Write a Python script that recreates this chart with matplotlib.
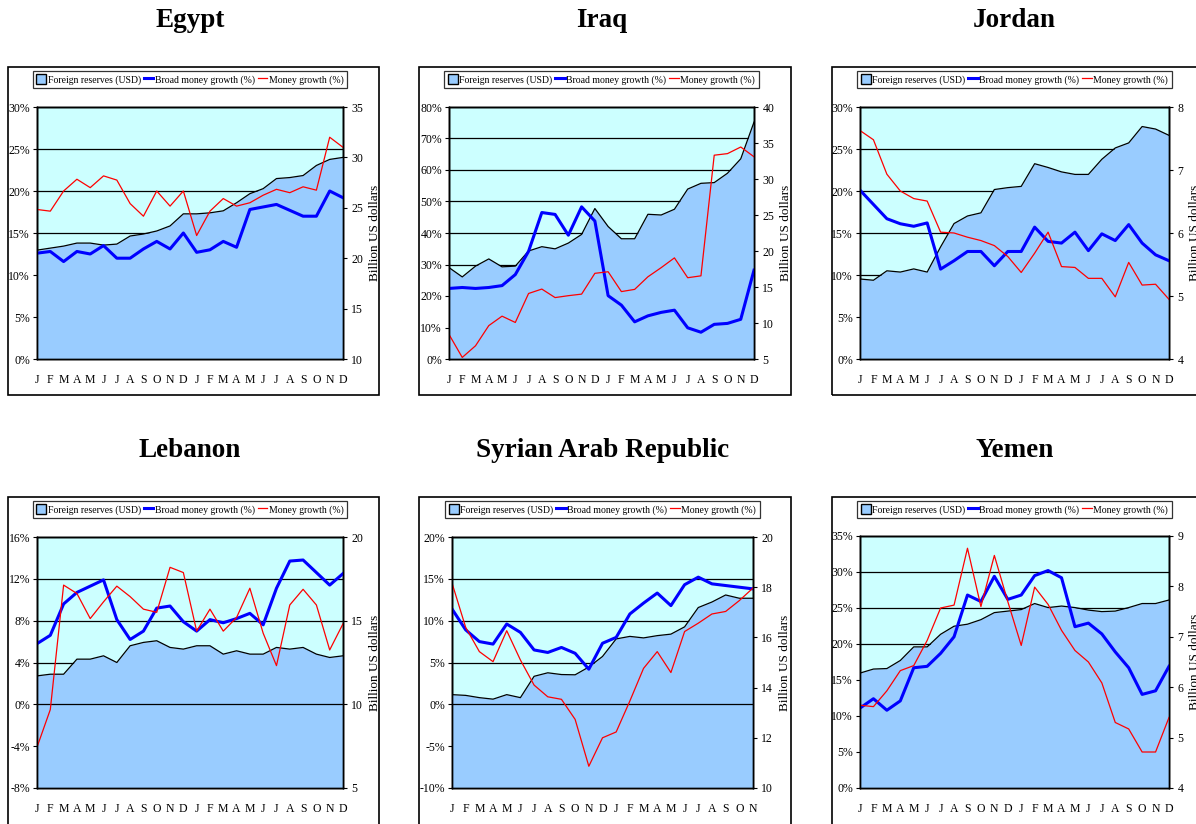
import numpy as np
import matplotlib.pyplot as plt
from matplotlib.patches import Rectangle, Patch
from matplotlib.lines import Line2D

plt.rcParams['font.family'] = ['Liberation Serif', 'DejaVu Serif']

# Month labels (two years)
meses = ['J', 'F', 'M', 'A', 'M', 'J', 'J', 'A', 'S', 'O', 'N', 'D'] * 2

# Egypt
egito_reservas = [20.8, 21.0, 21.2, 21.5, 21.5, 21.3, 21.4, 22.2, 22.4, 22.7, 23.2, 24.4,
                  24.4, 24.5, 24.7, 25.5, 26.4, 26.9, 27.9, 28.0, 28.2, 29.2, 29.8, 30.0]
egito_broad = [12.6, 12.8, 11.6, 12.8, 12.5, 13.5, 12.0, 12.0, 13.1, 14.0, 13.1, 15.0,
               12.7, 13.0, 14.0, 13.3, 17.8, 18.1, 18.4, 17.7, 17.0, 17.0, 20.0, 19.2]
egito_money = [17.8, 17.6, 20.0, 21.4, 20.4, 21.8, 21.3, 18.5, 17.0, 20.0, 18.2, 20.0,
               14.7, 17.6, 19.1, 18.2, 18.6, 19.5, 20.2, 19.8, 20.5, 20.1, 26.4, 25.2]

# Iraq
iraque_reservas = [17.7, 16.4, 17.9, 18.9, 17.8, 17.9, 20.0, 20.6, 20.3, 21.1, 22.3, 25.9,
                   23.4, 21.7, 21.7, 25.1, 25.0, 25.8, 28.6, 29.4, 29.5, 30.8, 32.8, 37.9]
iraque_broad = [22.4, 22.7, 22.4, 22.7, 23.3, 26.8, 34.2, 46.5, 45.9, 39.3, 48.3, 43.8,
                20.1, 17.1, 11.8, 13.7, 14.8, 15.5, 9.9, 8.5, 11.0, 11.3, 12.6, 28.2]
iraque_money = [7.8, 0.5, 4.2, 10.6, 13.6, 11.6, 20.8, 22.2, 19.5, 20.1, 20.6, 27.2,
                27.7, 21.4, 22.1, 26.1, 29.0, 32.1, 25.8, 26.4, 64.7, 65.2, 67.3, 64.2]

# Jordan
jordania_reservas = [5.27, 5.25, 5.40, 5.38, 5.43, 5.38, 5.78, 6.15, 6.27, 6.32, 6.69, 6.72,
                     6.74, 7.10, 7.04, 6.97, 6.93, 6.93, 7.17, 7.35, 7.43, 7.69, 7.65, 7.55]
jordania_broad = [20.1, 18.4, 16.7, 16.1, 15.8, 16.2, 10.7, 11.7, 12.8, 12.8, 11.1, 12.8,
                  12.8, 15.7, 14.0, 13.8, 15.1, 12.9, 14.9, 14.1, 16.0, 13.8, 12.4, 11.7]
jordania_money = [27.2, 26.1, 22.0, 20.0, 19.1, 18.8, 15.1, 15.0, 14.5, 14.1, 13.5, 12.2,
                  10.3, 12.6, 15.1, 11.0, 10.9, 9.6, 9.6, 7.4, 11.5, 8.8, 8.9, 7.1]

# Lebanon
libano_reservas = [11.7, 11.8, 11.8, 12.7, 12.7, 12.9, 12.5, 13.5, 13.7, 13.8, 13.4, 13.3,
                   13.5, 13.5, 13.0, 13.2, 13.0, 13.0, 13.4, 13.3, 13.4, 13.0, 12.8, 12.9]
libano_broad = [5.8, 6.6, 9.6, 10.7, 11.3, 11.9, 8.1, 6.2, 7.0, 9.2, 9.4, 7.9,
                7.0, 8.1, 7.8, 8.2, 8.7, 7.6, 11.1, 13.7, 13.8, 12.6, 11.4, 12.5]
libano_money = [-4.1, -0.5, 11.4, 10.6, 8.2, 9.8, 11.3, 10.3, 9.1, 8.8, 13.1, 12.6,
                7.0, 9.1, 7.0, 8.3, 11.1, 6.8, 3.7, 9.5, 11.0, 9.5, 5.2, 7.7]

# Syrian Arab Republic (23 months)
siria_reservas = [13.72, 13.69, 13.60, 13.54, 13.72, 13.60, 14.45, 14.59, 14.52, 14.51, 14.82, 15.24,
                  15.94, 16.04, 15.98, 16.07, 16.13, 16.42, 17.19, 17.41, 17.69, 17.56, 17.56]
siria_broad = [11.4, 8.9, 7.5, 7.2, 9.6, 8.6, 6.5, 6.2, 6.8, 6.1, 4.2, 7.3,
               8.0, 10.8, 12.1, 13.3, 11.8, 14.3, 15.2, 14.4, 14.2, 14.0, 13.8]
siria_money = [14.5, 9.2, 6.3, 5.1, 8.8, 5.3, 2.3, 0.9, 0.6, -1.8, -7.4, -4.0,
               -3.3, 0.4, 4.3, 6.3, 3.8, 8.7, 9.7, 10.8, 11.1, 12.4, 13.9]

# Yemen
iemen_reservas = [6.28, 6.36, 6.37, 6.53, 6.80, 6.80, 7.05, 7.21, 7.25, 7.34, 7.48, 7.51,
                  7.54, 7.66, 7.58, 7.61, 7.58, 7.53, 7.50, 7.51, 7.58, 7.66, 7.66, 7.73]
iemen_broad = [11.1, 12.4, 10.8, 12.1, 16.7, 16.9, 18.7, 21.0, 26.8, 25.9, 29.4, 26.2,
               26.8, 29.5, 30.2, 29.2, 22.4, 22.9, 21.4, 18.9, 16.7, 13.0, 13.5, 16.9]
iemen_money = [11.5, 11.3, 13.5, 16.3, 17.0, 20.5, 25.0, 25.4, 33.3, 25.2, 32.3, 25.9,
               19.8, 27.9, 25.5, 21.9, 19.1, 17.5, 14.6, 9.1, 8.2, 5.0, 5.0, 9.8]

W, H = 1196, 824
fig = plt.figure(figsize=(W / 100, H / 100), dpi=100)

AZUL_CLARO = '#99CCFF'
CIANO = '#CCFFFF'


def ret(x0, y0, x1, y1):
    # pixel box (top-left origin) -> figure fraction
    return [x0 / W, 1 - y1 / H, (x1 - x0) / W, (y1 - y0) / H]


def painel(titulo, caixa, area, reservas, broad, money, lim_esq, lim_dir, linha_money='red'):
    fx0, fy0, fx1, fy1 = caixa
    fig.add_artist(Rectangle((fx0 / W, 1 - fy1 / H), (fx1 - fx0) / W, (fy1 - fy0) / H,
                             transform=fig.transFigure, fill=False, edgecolor='black', lw=1.2))
    ax0, ay0, ax1, ay1 = area
    fig.text((ax0 + ax1) / 2 / W, 1 - (fy0 - 40) / H, titulo, ha='center', va='baseline',
             fontsize=19.5, fontweight='bold')

    n = len(reservas)
    x = np.arange(n)

    ax = fig.add_axes(ret(ax0, ay0, ax1, ay1))
    ax.set_facecolor(CIANO)
    esq_ticks = np.arange(lim_esq[0], lim_esq[1] + lim_esq[2] / 2, lim_esq[2])
    ax.set_ylim(lim_esq[0], lim_esq[1])
    ax.set_xlim(0, n - 1)
    ax.set_yticks(esq_ticks)
    ax.set_yticklabels([f'{v:g}%' for v in esq_ticks])
    for v in esq_ticks[1:-1]:
        ax.axhline(v, color='black', lw=0.9, zorder=1)
    ax.set_xticks(x)
    ax.set_xticklabels(meses[:n])
    ax.tick_params(axis='x', length=0, pad=11, labelsize=8.5)
    ax.tick_params(axis='y', length=3, direction='out', labelsize=8.5, pad=2)

    axr = ax.twinx()
    axr.set_ylim(lim_dir[0], lim_dir[1])
    dir_ticks = np.arange(lim_dir[0], lim_dir[1] + lim_dir[2] / 2, lim_dir[2])
    axr.set_yticks(dir_ticks)
    axr.set_yticklabels([f'{v:g}' for v in dir_ticks])
    axr.fill_between(x, reservas, lim_dir[0], color=AZUL_CLARO, lw=0)
    axr.plot(x, reservas, color='black', lw=0.9)
    axr.tick_params(axis='y', length=3, direction='out', labelsize=8.5, pad=3)
    axr.set_ylabel('Billion US dollars', fontsize=9.5, labelpad=4)

    axl = ax.twinx()
    axl.set_ylim(lim_esq[0], lim_esq[1])
    axl.set_yticks([])
    if lim_esq[0] < 0:
        axl.axhline(0, color='black', lw=0.9)
    axl.plot(x, broad, color='#0000FF', lw=2.2)
    axl.plot(x, money, color=linha_money, lw=0.9)
    for a in (ax, axr, axl):
        for s in a.spines.values():
            s.set_linewidth(1)

    handles = [Patch(facecolor=AZUL_CLARO, edgecolor='black'),
               Line2D([], [], color='#0000FF', lw=2.2),
               Line2D([], [], color=linha_money, lw=0.9)]
    labels = ['Foreign reserves (USD)', 'Broad money growth (%)', 'Money growth (%)']
    leg = axl.legend(handles, labels, loc='center', ncol=3, fontsize=7,
                     bbox_to_anchor=((ax0 + ax1) / 2 / W, 1 - (fy0 + 12.5) / H),
                     bbox_transform=fig.transFigure, frameon=True, fancybox=False,
                     handlelength=1.0, handletextpad=0.15, columnspacing=0.3,
                     borderpad=0.35, borderaxespad=0, handleheight=1.1)
    leg.get_frame().set_edgecolor('black')
    leg.get_frame().set_linewidth(0.9)


painel('Egypt', (8, 67, 379, 395), (37, 107, 343, 359),
       egito_reservas, egito_broad, egito_money, (0, 30, 5), (10, 35, 5))
painel('Iraq', (419, 67, 791, 395), (449, 107, 754, 359),
       iraque_reservas, iraque_broad, iraque_money, (0, 80, 10), (5, 40, 5))
painel('Jordan', (832, 67, 1210, 395), (860, 107, 1169, 359),
       jordania_reservas, jordania_broad, jordania_money, (0, 30, 5), (4, 8, 1))
painel('Lebanon', (8, 497, 379, 840), (37, 537, 343, 788),
       libano_reservas, libano_broad, libano_money, (-8, 16, 4), (5, 20, 5))
painel('Syrian Arab Republic', (419, 497, 791, 840), (452, 537, 753, 788),
       siria_reservas, siria_broad, siria_money, (-10, 20, 5), (10, 20, 2))
painel('Yemen', (832, 497, 1210, 840), (860, 536, 1169, 788),
       iemen_reservas, iemen_broad, iemen_money, (0, 35, 5), (4, 9, 1))

plt.savefig('out.png', dpi=100)
